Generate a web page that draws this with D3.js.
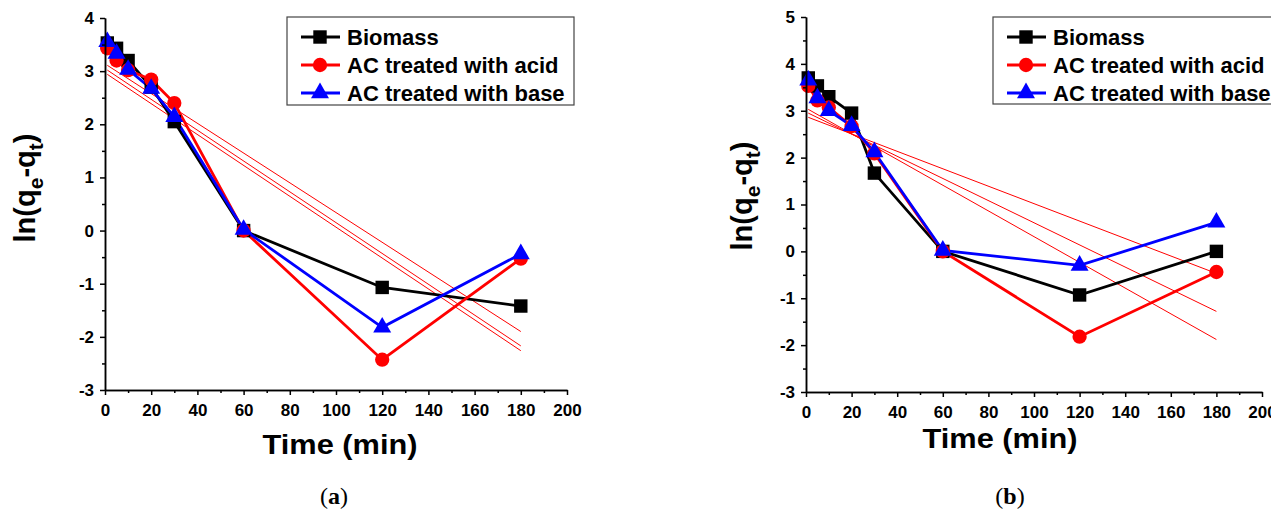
<!DOCTYPE html>
<html>
<head>
<meta charset="utf-8">
<script src="https://cdn.jsdelivr.net/npm/d3@7"></script>
<style>
  body { margin: 0; background: #fff; }
  svg text { font-family: Arial, "Liberation Sans", sans-serif; }
</style>
</head>
<body>
<svg id="chart" width="1271" height="515"></svg>
<script>
// sampling times (min)
const times = [1, 5, 10, 20, 30, 60, 120, 180];
const seriesNames = ["Biomass", "AC treated with acid", "AC treated with base"];

// panel (a)
const biomassA = [3.53, 3.43, 3.2, 2.7, 2.05, 0.0, -1.07, -1.42];
const acidA = [3.43, 3.2, 3.02, 2.84, 2.4, 0.0, -2.43, -0.53];
const baseA = [3.55, 3.33, 3.03, 2.67, 2.14, 0.02, -1.82, -0.44];
// fitted lines (a): [value at t=1, value at t=180]
const fitsA = [[3.11, -1.9], [3.02, -2.17], [2.94, -2.26]];

// panel (b)
const biomassB = [3.7, 3.53, 3.3, 2.95, 1.67, 0.0, -0.93, 0.0];
const acidB = [3.53, 3.22, 3.07, 2.67, 2.09, 0.0, -1.82, -0.44];
const baseB = [3.65, 3.27, 3.0, 2.68, 2.12, 0.02, -0.3, 0.62];
const fitsB = [[3.03, -1.88], [2.95, -1.28], [2.86, -0.47]];

const xTicks = [0, 20, 40, 60, 80, 100, 120, 140, 160, 180, 200];
const xMinor = d3.range(10, 200, 20);
const yTicksA = [-3, -2, -1, 0, 1, 2, 3, 4];
const yTicksB = [-3, -2, -1, 0, 1, 2, 3, 4, 5];

const colors = ["#000000", "#ff0000", "#0000ff"];
const symbols = [d3.symbolSquare, d3.symbolCircle, d3.symbolTriangle];
const symbolSizes = [180, 160, 140];

const svg = d3.select("#chart");

function drawPanel(p) {
  const g = svg.append("g");
  const x = d3.scaleLinear().domain([0, 200]).range(p.xRange);
  const y = d3.scaleLinear().domain(p.yDomain).range(p.yRange);

  // fitted lines
  p.fits.forEach(f => {
    g.append("line")
      .attr("x1", x(times[0])).attr("y1", y(f[0]))
      .attr("x2", x(times[times.length - 1])).attr("y2", y(f[1]))
      .attr("stroke", "#ff0000").attr("stroke-width", 1);
  });

  // series lines + markers
  const line = d3.line().x((d, i) => x(times[i])).y(d => y(d));
  p.series.forEach((vals, k) => {
    g.append("path")
      .datum(vals)
      .attr("d", line)
      .attr("fill", "none")
      .attr("stroke", colors[k])
      .attr("stroke-width", 2.8);
  });
  p.series.forEach((vals, k) => {
    g.selectAll(null)
      .data(vals)
      .enter()
      .append("path")
      .attr("d", d3.symbol().type(symbols[k]).size(symbolSizes[k]))
      .attr("transform", (d, i) => `translate(${x(times[i])},${y(d)})`)
      .attr("fill", colors[k]);
  });

  // axes
  g.append("g")
    .attr("transform", `translate(0,${p.yRange[0]})`)
    .call(d3.axisBottom(x).tickValues(xTicks).tickSize(5).tickSizeOuter(0).tickPadding(9)
      .tickFormat(d => String(d)));
  g.append("g")
    .attr("transform", `translate(0,${p.yRange[0]})`)
    .call(d3.axisBottom(x).tickValues(xMinor).tickSize(3).tickSizeOuter(0).tickFormat(""));

  const yMinor = d3.range(p.yDomain[0] + 0.5, p.yDomain[1], 1);
  g.append("g")
    .attr("transform", `translate(${p.xRange[0]},0)`)
    .call(d3.axisLeft(y).tickValues(p.yTicks).tickSize(5).tickSizeOuter(0).tickPadding(6)
      .tickFormat(d => String(d)));
  g.append("g")
    .attr("transform", `translate(${p.xRange[0]},0)`)
    .call(d3.axisLeft(y).tickValues(yMinor).tickSize(3).tickSizeOuter(0).tickFormat(""));

  g.selectAll(".domain, .tick line").attr("stroke", "#000").attr("stroke-width", 1.5);
  g.selectAll(".tick text")
    .attr("fill", "#000")
    .style("font-size", "17px")
    .style("font-weight", "bold")
    .style("font-family", "Arial, 'Liberation Sans', sans-serif");

  // axis titles
  g.append("text")
    .attr("x", p.xTitle[0]).attr("y", p.xTitle[1])
    .attr("text-anchor", "middle")
    .attr("font-size", 27).attr("font-weight", "bold")
    .attr("textLength", 155).attr("lengthAdjust", "spacingAndGlyphs")
    .text("Time (min)");

  const yt = g.append("text")
    .attr("transform", `translate(${p.yTitle[0]},${p.yTitle[1]}) rotate(-90)`)
    .attr("text-anchor", "middle")
    .attr("font-size", 29).attr("font-weight", "bold");
  yt.append("tspan").text("ln(q");
  yt.append("tspan").attr("dy", 8).attr("font-size", 21).text("e");
  yt.append("tspan").attr("dy", -8).text("-q");
  yt.append("tspan").attr("dy", 8).attr("font-size", 21).text("t");
  yt.append("tspan").attr("dy", -8).text(")");

  // legend
  const L = p.legend;
  g.append("rect")
    .attr("x", L.x).attr("y", L.y).attr("width", L.w).attr("height", L.h)
    .attr("fill", "#fff").attr("stroke", "#444").attr("stroke-width", 1.2);
  seriesNames.forEach((name, k) => {
    const cy = L.y + 20 + k * 28;
    g.append("line")
      .attr("x1", L.x + 14).attr("x2", L.x + 53)
      .attr("y1", cy).attr("y2", cy)
      .attr("stroke", colors[k]).attr("stroke-width", 2.8);
    g.append("path")
      .attr("d", d3.symbol().type(symbols[k]).size(symbolSizes[k])())
      .attr("transform", `translate(${L.x + 33},${cy})`)
      .attr("fill", colors[k]);
    g.append("text")
      .attr("x", L.x + 60).attr("y", cy + 8)
      .attr("font-size", 22).attr("font-weight", "bold")
      .text(name);
  });

  // panel label
  const lab = svg.append("text")
    .attr("x", p.label[0]).attr("y", p.label[1])
    .attr("text-anchor", "middle")
    .style("font-family", "'Liberation Serif', 'DejaVu Serif', serif")
    .attr("font-size", 24);
  lab.append("tspan").text("(");
  lab.append("tspan").attr("font-weight", "bold").text(p.labelText);
  lab.append("tspan").text(")");
}

drawPanel({
  xRange: [105, 567], yDomain: [-3, 4], yRange: [390, 18], yTicks: yTicksA,
  series: [biomassA, acidA, baseA], fits: fitsA,
  xTitle: [340, 454], yTitle: [35, 188],
  legend: { x: 287, y: 17, w: 287, h: 88 },
  label: [334, 504], labelText: "a"
});

drawPanel({
  xRange: [806, 1262], yDomain: [-3, 5], yRange: [392, 17], yTicks: yTicksB,
  series: [biomassB, acidB, baseB], fits: fitsB,
  xTitle: [1000, 448], yTitle: [752, 196],
  legend: { x: 993, y: 17, w: 300, h: 87 },
  label: [1010, 504], labelText: "b"
});
</script>
</body>
</html>
